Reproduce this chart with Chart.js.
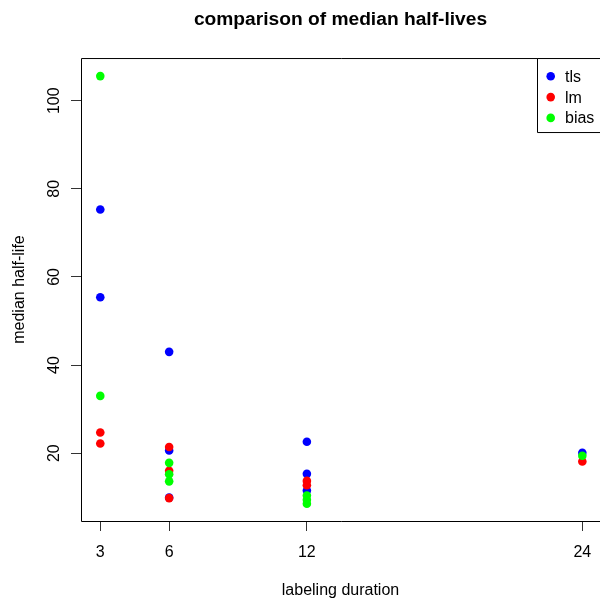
<!DOCTYPE html>
<html>
<head>
<meta charset="utf-8">
<script src="https://cdn.jsdelivr.net/npm/chart.js@4"></script>
<style>
  html, body { margin: 0; padding: 0; background: #fff; }
  canvas { display: block; }
</style>
</head>
<body>
<canvas id="c" width="600" height="598"></canvas>
<script>
// ---- data ----
const seriesNames = ['tls', 'lm', 'bias'];
const seriesColors = ['#0000FF', '#FF0000', '#00FF00'];

const tlsDuration = [3, 3, 6, 6, 6, 12, 12, 12, 24];
const tlsHalfLife = [75.3, 55.4, 43.0, 20.6, 9.9, 22.6, 15.3, 11.5, 20.1];

const lmDuration = [3, 3, 6, 6, 6, 12, 12, 24];
const lmHalfLife = [24.7, 22.2, 21.4, 16.0, 9.8, 13.7, 12.7, 18.1];

const biasDuration = [3, 3, 6, 6, 6, 12, 12, 12, 24];
const biasHalfLife = [105.6, 33.0, 17.8, 15.2, 13.6, 10.4, 9.4, 8.5, 19.4];

const xTicks = [3, 6, 12, 24];
const yTicks = [20, 40, 60, 80, 100];

const FONT = 'Liberation Sans, Arial, Helvetica, sans-serif';

function pts(xs, ys) { return xs.map((x, i) => ({ x: x, y: ys[i] })); }

const seriesData = [
  pts(tlsDuration, tlsHalfLife),
  pts(lmDuration, lmHalfLife),
  pts(biasDuration, biasHalfLife)
];

const datasets = seriesNames.map((name, i) => ({
  label: name,
  data: seriesData[i],
  backgroundColor: seriesColors[i],
  borderWidth: 0,
  pointRadius: 4.3,
  pointHoverRadius: 4.3,
  order: seriesNames.length - i
}));

const rStyle = {
  id: 'rStyle',
  afterDraw(chart) {
    const ctx = chart.ctx;
    const a = chart.chartArea;
    const ys = chart.scales.y;
    ctx.save();
    // box
    ctx.strokeStyle = '#000';
    ctx.lineWidth = 1;
    ctx.beginPath();
    ctx.moveTo(a.left + 0.5, a.bottom + 0.5);
    ctx.lineTo(a.left + 0.5, a.top + 0.5);
    ctx.lineTo(a.right + 1.5, a.top + 0.5);
    ctx.moveTo(a.left + 0.5, a.bottom + 0.5);
    ctx.lineTo(a.right + 1.5, a.bottom + 0.5);
    ctx.stroke();
    // rotated y tick labels
    ctx.fillStyle = '#000';
    ctx.font = '16px ' + FONT;
    ctx.textAlign = 'center';
    ctx.textBaseline = 'middle';
    ys.ticks.forEach(t => {
      const py = ys.getPixelForValue(t.value);
      ctx.save();
      ctx.translate(55, py);
      ctx.rotate(-Math.PI / 2);
      ctx.fillText(String(t.value), 0, 0);
      ctx.restore();
    });
    // legend
    const lx = 537.5, ly = a.top + 0.5, lh = 74;
    ctx.beginPath();
    ctx.rect(lx, ly, 80, lh);
    ctx.fillStyle = '#fff';
    ctx.fill();
    ctx.stroke();
    chart.data.datasets.forEach((ds, i) => {
      const cy = 76.3 + i * 20.8;
      ctx.beginPath();
      ctx.fillStyle = ds.backgroundColor;
      ctx.arc(550.7, cy, 4.3, 0, Math.PI * 2);
      ctx.fill();
      ctx.fillStyle = '#000';
      ctx.textAlign = 'left';
      ctx.textBaseline = 'middle';
      ctx.fillText(ds.label, 565, cy + 1);
    });
    ctx.restore();
  }
};

new Chart(document.getElementById('c'), {
  type: 'scatter',
  data: { datasets: datasets },
  plugins: [rStyle],
  options: {
    responsive: false,
    animation: false,
    devicePixelRatio: 1,
    layout: { padding: 0, autoPadding: false },
    plugins: {
      legend: { display: false },
      tooltip: { enabled: false },
      title: {
        display: true,
        text: 'comparison of median half-lives',
        fullSize: false,
        color: '#000',
        font: { family: FONT, size: 19.2, weight: 'bold', lineHeight: 1.2 },
        padding: { top: 8.5, bottom: 26.5 }
      }
    },
    scales: {
      x: {
        type: 'linear',
        min: 2.16,
        max: 24.77,
        afterBuildTicks: s => { s.ticks = xTicks.map(v => ({ value: v })); },
        afterFit: s => { s.height = 77; s.paddingLeft = 0; s.paddingRight = 0; },
        grid: { drawOnChartArea: false, drawTicks: true, tickLength: 10, color: '#333', lineWidth: 1 },
        border: { display: false },
        ticks: { color: '#000', font: { family: FONT, size: 16 }, padding: 11.5, maxRotation: 0, autoSkip: false },
        title: { display: true, text: 'labeling duration', color: '#000', font: { family: FONT, size: 16 }, padding: { top: 0, bottom: -2 } }
      },
      y: {
        type: 'linear',
        min: 4.6,
        max: 109.7,
        afterBuildTicks: s => { s.ticks = yTicks.map(v => ({ value: v })); },
        afterFit: s => { s.width = 81; s.paddingTop = 0; s.paddingBottom = 0; },
        grid: { drawOnChartArea: false, drawTicks: true, tickLength: 10, color: '#333', lineWidth: 1 },
        border: { display: false },
        ticks: { display: false },
        title: { display: true, text: 'median half-life', color: '#000', font: { family: FONT, size: 16 }, padding: { top: 10, bottom: 0 } }
      }
    }
  }
});
</script>
</body>
</html>
